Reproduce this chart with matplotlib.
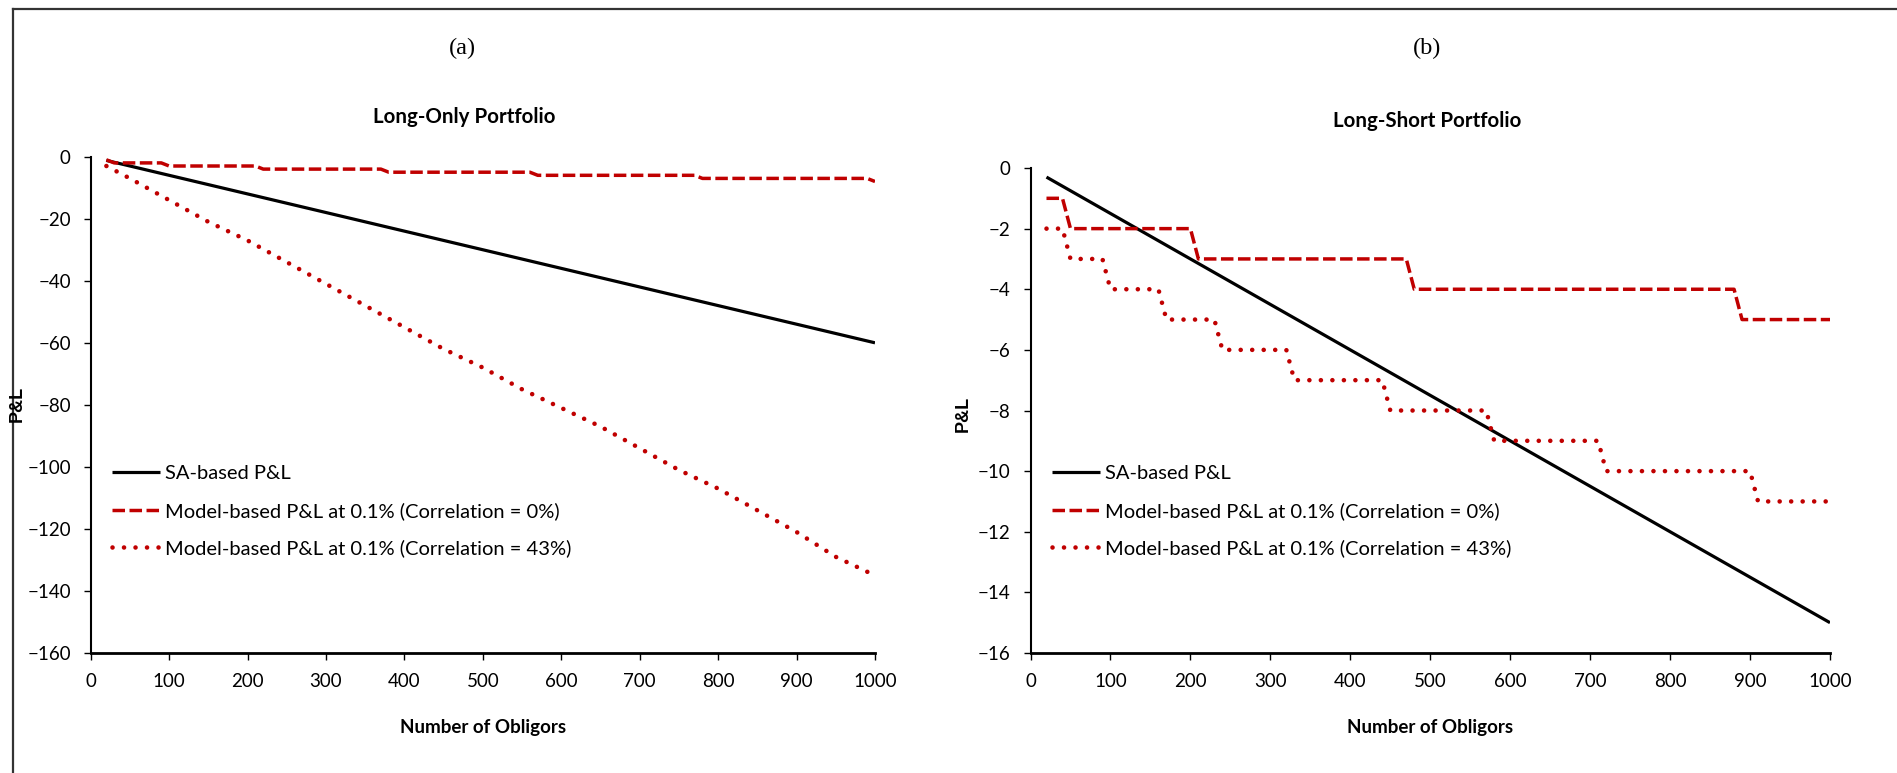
"""
Long-only vs long-short portfolio P&L against number of obligors.
"""

import matplotlib.pyplot as plt
import numpy as np
from matplotlib.lines import Line2D

plt.rcParams['font.family'] = ['Lato', 'DejaVu Sans']

W, H = 1897, 773
RED = "#C00000"

LEGEND_LABELS = ["SA-based P&L",
                 "Model-based P&L at 0.1% (Correlation = 0%)",
                 "Model-based P&L at 0.1% (Correlation = 43%)"]

# (a) Long-only portfolio
long_sa_n = [20, 100, 200, 300, 400, 500, 600, 700, 800, 900, 1000]
long_sa_pl = [-1.2, -6, -12, -18, -24, -30, -36, -42, -48, -54, -60]

long_c0_n = [20, 30, 90, 100, 210, 220, 370, 380, 560, 570, 770, 780, 990, 1000]
long_c0_pl = [-1, -2, -2, -3, -3, -4, -4, -5, -5, -6, -6, -7, -7, -8]

long_c43_n = [20, 50, 100, 150, 200, 250, 300, 350, 400, 450, 500,
              550, 600, 650, 700, 750, 800, 850, 900, 950, 1000]
long_c43_pl = [-3, -7, -14, -21, -27, -34, -41, -48, -55, -62, -68,
               -75, -81, -87, -94, -101, -107, -114, -121, -129, -135]

# (b) Long-short portfolio
short_sa_n = [20, 1000]
short_sa_pl = [-0.3, -15]

short_c0_n = [20, 40, 50, 200, 210, 470, 480, 880, 890, 1000]
short_c0_pl = [-1, -1, -2, -2, -3, -3, -4, -4, -5, -5]

short_c43_n = [20, 40, 50, 90, 100, 160, 170, 230, 240, 320, 330,
               440, 450, 570, 580, 710, 720, 900, 910, 1000]
short_c43_pl = [-2, -2, -3, -3, -4, -4, -5, -5, -6, -6, -7,
                -7, -8, -8, -9, -9, -10, -10, -11, -11]


def fx(x):
    return x / W


def fy(y):
    return 1 - y / H


def add_axes(x0, x1, y0, y1):
    return fig.add_axes([fx(x0), fy(y1), (x1 - x0) / W, (y1 - y0) / H])


def draw_panel(ax, sa, c0, c43, ymin, ystep, legend_x):
    ax.plot(*sa, color="black", lw=2.3, solid_capstyle="butt")
    ax.plot(*c0, color=RED, lw=2.5, linestyle=(0, (3.6, 1.3)))
    ax.plot(*c43, color=RED, lw=3.3, linestyle=(0, (0.01, 2.5)),
            dash_capstyle="round")

    ax.set_xlim(0, 1000)
    ax.set_ylim(ymin, 0)
    ax.set_xticks(range(0, 1001, 100))
    ax.set_yticks(np.arange(ymin, 1, ystep))
    for side in ["top", "right"]:
        ax.spines[side].set_visible(False)
    ax.spines["left"].set_linewidth(1.5)
    ax.spines["bottom"].set_linewidth(2)
    ax.tick_params(direction="out", length=5.3, width=1,
                   labelsize=13.5, pad=9, colors="black")

    ax.legend(LEGEND_LABELS, loc="upper left",
              bbox_to_anchor=(fx(legend_x), fy(465)),
              bbox_transform=fig.transFigure, frameon=False,
              borderpad=0, borderaxespad=0, handlelength=2.4,
              handletextpad=0.22, labelspacing=0.98, fontsize=14.5)


fig = plt.figure(figsize=(W / 100, H / 100), dpi=100)

ax1 = add_axes(90.7, 875, 156.7, 653)
ax2 = add_axes(1030.5, 1830, 168, 653)

draw_panel(ax1, (long_sa_n, long_sa_pl), (long_c0_n, long_c0_pl),
           (long_c43_n, long_c43_pl), -160, 20, 112)
draw_panel(ax2, (short_sa_n, short_sa_pl), (short_c0_n, short_c0_pl),
           (short_c43_n, short_c43_pl), -16, 2, 1052)

# panel letters and titles
for x, letter in [(462, "(a)"), (1427, "(b)")]:
    fig.text(fx(x), fy(48), letter, family="Liberation Serif", size=17.5,
             ha="center", va="center")
fig.text(fx(464), fy(117), "Long-Only Portfolio", weight="bold", size=14.8,
         ha="center", va="center")
fig.text(fx(1427), fy(121), "Long-Short Portfolio", weight="bold", size=14.8,
         ha="center", va="center")

# axis labels
for x in [483, 1430]:
    fig.text(fx(x), fy(728), "Number of Obligors", weight="bold", size=13.5,
             ha="center", va="center")
for x, y in [(17, 404), (963, 414)]:
    fig.text(fx(x), fy(y), "P&L", family="Liberation Sans", weight="bold",
             size=13, rotation=90, ha="center", va="center")

# outer frame (top and left edges only)
fig.add_artist(Line2D([fx(13), fx(13)], [0, fy(9)], color="#333333",
                      lw=1.6, transform=fig.transFigure))
fig.add_artist(Line2D([fx(13), 1], [fy(9), fy(9)], color="#333333",
                      lw=1.6, transform=fig.transFigure))

fig.savefig("out.png", dpi=100)
